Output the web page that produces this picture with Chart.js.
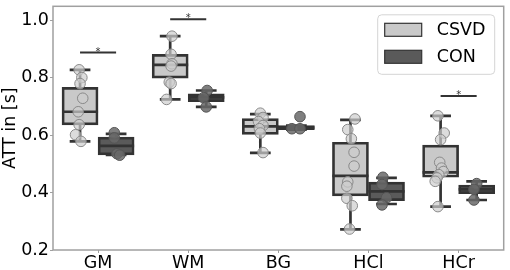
<!DOCTYPE html>
<html><head><meta charset="utf-8">
<script src="https://cdn.jsdelivr.net/npm/chart.js@4"></script>
<style>html,body{margin:0;padding:0;background:#fff}</style>
</head><body>
<canvas id="c" width="510" height="270"></canvas>
<script>
// ---- data ----
const categories = ['GM', 'WM', 'BG', 'HCl', 'HCr'];
const seriesNames = ['CSVD', 'CON'];
const yTicks = [0.2, 0.4, 0.6, 0.8, 1.0];

// box statistics (whisker low, Q1, median, Q3, whisker high)
const csvdMin = [0.578, 0.724, 0.538, 0.272, 0.351];
const csvdQ1  = [0.635, 0.798, 0.602, 0.388, 0.453];
const csvdMed = [0.681, 0.844, 0.630, 0.458, 0.470];
const csvdQ3  = [0.766, 0.881, 0.657, 0.575, 0.565];
const csvdMax = [0.827, 0.944, 0.673, 0.653, 0.667];

const conMin = [0.531, 0.698, 0.619, 0.360, 0.374];
const conQ1  = [0.531, 0.716, 0.619, 0.372, 0.396];
const conMed = [0.562, 0.731, 0.626, 0.404, 0.411];
const conQ3  = [0.593, 0.743, 0.633, 0.436, 0.426];
const conMax = [0.604, 0.755, 0.633, 0.451, 0.439];

// individual subjects (values) and their horizontal jitter (category units)
const csvdPoints = [
  [0.827, 0.800, 0.779, 0.728, 0.681, 0.636, 0.601, 0.578],
  [0.944, 0.881, 0.848, 0.840, 0.784, 0.779, 0.724],
  [0.676, 0.661, 0.647, 0.633, 0.622, 0.607, 0.539],
  [0.656, 0.619, 0.587, 0.540, 0.492, 0.437, 0.422, 0.380, 0.354, 0.273],
  [0.667, 0.607, 0.584, 0.505, 0.485, 0.473, 0.462, 0.451, 0.439, 0.351]
];
const csvdJitter = [
  [-0.01, 0.02, 0.00, 0.03, -0.02, -0.01, -0.05, 0.01],
  [0.02, 0.01, 0.02, 0.01, -0.01, 0.01, -0.04],
  [0.00, 0.03, -0.02, 0.03, -0.01, 0.00, 0.03],
  [0.05, -0.03, 0.01, 0.04, 0.04, -0.03, -0.04, -0.04, 0.02, -0.01],
  [-0.03, 0.04, 0.00, -0.01, 0.01, 0.03, -0.02, -0.04, -0.06, -0.03]
];
const conPoints = [
  [0.608, 0.590, 0.535, 0.530],
  [0.755, 0.730, 0.698],
  [0.664, 0.622, 0.622],
  [0.453, 0.428, 0.382, 0.357],
  [0.431, 0.411, 0.374]
];
const conJitter = [
  [-0.02, -0.02, 0.01, 0.04],
  [0.01, -0.03, 0.00],
  [0.04, -0.05, 0.04],
  [-0.04, -0.05, 0.00, -0.05],
  [0.00, -0.03, -0.03]
];

// significance bars (null = none)
const sigY = [0.887, 1.003, null, null, 0.736];
const sigText = ['*', '*', null, null, '*'];

// ---- styles ----
const FONT = 'DejaVu Sans';
const EDGE = '#333333';
const CSVD_FILL = '#c9c9c9';
const CON_FILL = '#5a5a5a';
const SHIFT = 0.2;   // box centre offset from category centre
const HALF = 0.2;    // half box width
const CAP = 0.115;   // half cap width

function boxLines(mins, q1, med, q3, maxs, shift) {
  const pts = [];
  const gap = {x: null, y: null};
  categories.forEach((c, i) => {
    const x = i + shift;
    pts.push({x: x - HALF, y: med[i]}, {x: x + HALF, y: med[i]}, gap);
    if (maxs[i] > q3[i]) pts.push({x: x, y: q3[i]}, {x: x, y: maxs[i]}, gap);
    pts.push({x: x - CAP, y: maxs[i]}, {x: x + CAP, y: maxs[i]}, gap);
    if (mins[i] < q1[i]) pts.push({x: x, y: q1[i]}, {x: x, y: mins[i]}, gap);
    pts.push({x: x - CAP, y: mins[i]}, {x: x + CAP, y: mins[i]}, gap);
  });
  return pts;
}
function boxes(q1, q3, shift) {
  return categories.map((c, i) => ({x: i + shift, y: [q1[i], q3[i]]}));
}
function sigLines() {
  const pts = [];
  sigY.forEach((y, i) => {
    if (y === null) return;
    pts.push({x: i - SHIFT, y: y}, {x: i + SHIFT, y: y}, {x: null, y: null});
  });
  return pts;
}
function pointData(vals, jit, shift) {
  const pts = [];
  vals.forEach((arr, i) => arr.forEach((v, k) => pts.push({x: i + shift + jit[i][k], y: v})));
  return pts;
}

const framePlugin = {
  id: 'frame',
  afterDatasetsDraw(chart) {
    const {ctx, chartArea: a} = chart;
    ctx.save();
    ctx.strokeStyle = '#a0a0a0';
    ctx.lineWidth = 1.5;
    ctx.strokeRect(a.left, a.top, a.right - a.left, a.bottom - a.top);
    const xs = chart.scales.x, ys = chart.scales.y;
    ctx.fillStyle = '#333';
    ctx.font = '10px "' + FONT + '"';
    ctx.textAlign = 'center';
    ctx.textBaseline = 'alphabetic';
    sigY.forEach((y, i) => {
      if (y === null) return;
      ctx.fillText(sigText[i], xs.getPixelForValue(i), ys.getPixelForValue(y) + 2);
    });
    ctx.restore();
  },
  afterDraw(chart) {
    const {ctx, chartArea: a} = chart;
    const fills = [CSVD_FILL, CON_FILL];
    ctx.save();
    const bx = a.right - 126, by = a.top + 8.5, bw = 117, bh = 59.5;
    ctx.beginPath();
    ctx.roundRect(bx, by, bw, bh, 4);
    ctx.fillStyle = 'rgba(255,255,255,0.85)';
    ctx.fill();
    ctx.strokeStyle = '#d4d4d4';
    ctx.lineWidth = 1;
    ctx.stroke();
    ctx.font = '17.5px "' + FONT + '"';
    ctx.textBaseline = 'middle';
    ctx.textAlign = 'left';
    seriesNames.forEach((name, k) => {
      const py = by + 8.5 + k * 27;
      ctx.fillStyle = fills[k];
      ctx.fillRect(bx + 7, py, 37, 13);
      ctx.strokeStyle = EDGE;
      ctx.lineWidth = 1.2;
      ctx.strokeRect(bx + 7, py, 37, 13);
      ctx.fillStyle = '#000';
      ctx.fillText(name, bx + 59, py + 7);
    });
    ctx.restore();
  }
};

new Chart(document.getElementById('c'), {
  type: 'bar',
  data: {
    datasets: [
      {label: seriesNames[0], data: boxes(csvdQ1, csvdQ3, -SHIFT),
       backgroundColor: CSVD_FILL, borderColor: EDGE, borderWidth: 2.7, borderSkipped: false,
       grouped: false, barPercentage: 1, categoryPercentage: 1, order: 5},
      {label: seriesNames[1], data: boxes(conQ1, conQ3, SHIFT),
       backgroundColor: CON_FILL, borderColor: EDGE, borderWidth: 2.7, borderSkipped: false,
       grouped: false, barPercentage: 1, categoryPercentage: 1, order: 5},
      {type: 'line', label: 'csvdLines', data: boxLines(csvdMin, csvdQ1, csvdMed, csvdQ3, csvdMax, -SHIFT),
       borderColor: EDGE, borderWidth: 2.7, pointRadius: 0, spanGaps: false, fill: false, order: 4},
      {type: 'line', label: 'conLines', data: boxLines(conMin, conQ1, conMed, conQ3, conMax, SHIFT),
       borderColor: EDGE, borderWidth: 2.7, pointRadius: 0, spanGaps: false, fill: false, order: 4},
      {type: 'line', label: 'sig', data: sigLines(),
       borderColor: '#333', borderWidth: 2, pointRadius: 0, spanGaps: false, fill: false, order: 4},
      {type: 'scatter', label: 'csvdPts', data: pointData(csvdPoints, csvdJitter, -SHIFT),
       backgroundColor: 'rgba(205,205,205,0.7)', borderColor: '#8a8a8a', borderWidth: 1,
       pointRadius: 5.3, order: 1},
      {type: 'scatter', label: 'conPts', data: pointData(conPoints, conJitter, SHIFT),
       backgroundColor: 'rgba(105,105,105,0.85)', borderColor: '#555', borderWidth: 1,
       pointRadius: 5.3, order: 1}
    ]
  },
  options: {
    responsive: false,
    animation: false,
    devicePixelRatio: 1,
    layout: {padding: {top: 2, right: 2, left: 0, bottom: 0}},
    plugins: {legend: {display: false}, tooltip: {enabled: false}},
    scales: {
      x: {
        type: 'linear', min: -0.5, max: 4.5, offset: false,
        grid: {display: true, offset: false, drawOnChartArea: false, drawTicks: true, tickLength: 3, color: '#a0a0a0'},
        border: {display: false},
        afterBuildTicks(s) { s.ticks = categories.map((c, i) => ({value: i})); },
        ticks: {font: {family: FONT, size: 17.5}, color: '#000', padding: 0, maxRotation: 0,
                autoSkip: false, callback: v => categories[Math.round(v)]},
        afterFit(s) { s.height = 20; s.paddingLeft = 0; s.paddingRight = 0; }
      },
      y: {
        type: 'linear', min: 0.2, max: 1.048,
        grid: {display: true, drawOnChartArea: false, drawTicks: true, tickLength: 3, color: '#a0a0a0'},
        border: {display: false},
        afterBuildTicks(s) { s.ticks = yTicks.map(v => ({value: v})); },
        ticks: {font: {family: FONT, size: 17.5}, color: '#000', padding: 1,
                callback: v => Number(v).toFixed(1)},
        title: {display: true, text: 'ATT in [s]', font: {family: FONT, size: 17.5}, color: '#000', padding: 0},
        afterFit(s) { s.width = 53; s.paddingTop = 0; s.paddingBottom = 0; }
      }
    }
  },
  plugins: [framePlugin]
});
</script>
</body></html>
